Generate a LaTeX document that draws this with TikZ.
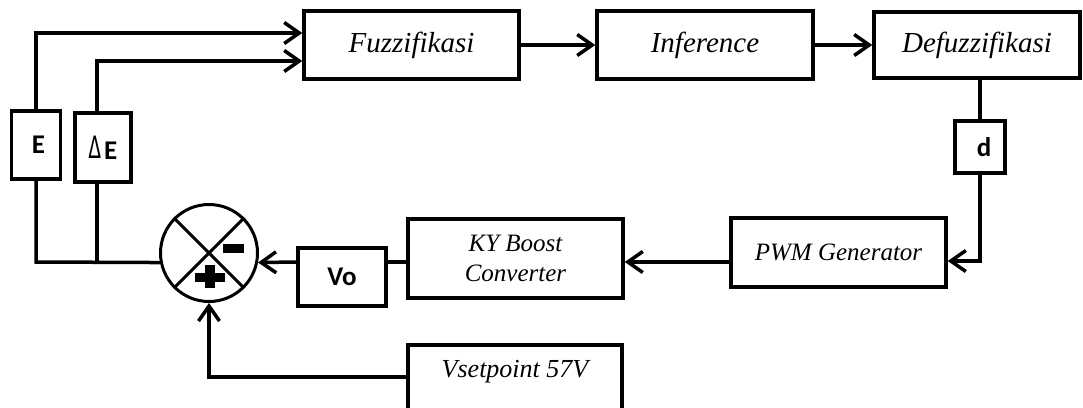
\documentclass[tikz,border=0pt]{standalone}
\usepackage{fontspec}
\usepackage{graphicx}
\setmainfont{Liberation Serif}
\newfontfamily\lblfont{Carlito}
\usetikzlibrary{arrows.meta,calc}
\tikzset{
  wire/.style={line width=3.5pt},
  arr/.style={wire, -{Straight Barb[length=15pt,width=21pt,line width=3.5pt]}},
  blockbox/.style={draw, line width=3.5pt, inner sep=0pt,
    font=\itshape\fontsize{29}{34}\selectfont},
  tagbox/.style={draw, line width=3.5pt, inner sep=0pt,
    font=\lblfont\bfseries\fontsize{27}{30}\selectfont},
  junction/.style={draw, circle, line width=3pt, minimum size=97pt, inner sep=0pt},
}
\begin{document}
\begin{tikzpicture}[x=1pt,y=-1pt]
  \clip (0,0) rectangle (1083,407);
  \fill[white] (0,0) rectangle (1083,407);

  % fuzzy controller chain
  \node[blockbox, minimum width=215pt, minimum height=68pt] (fuz) at (411.5,45) {Fuzzifikasi};
  \node[blockbox, minimum width=216pt, minimum height=68pt] (inf) at (705,45) {Inference};
  \node[blockbox, minimum width=206pt, minimum height=66pt] (def) at (977,45) {Defuzzifikasi};
  \node[tagbox, minimum width=50pt, minimum height=52pt] (d) at (980,147) {\hspace{8pt}d};

  % plant
  \node[blockbox, minimum width=215pt, minimum height=69pt,
        font=\itshape\fontsize{25}{30}\selectfont] (pwm) at (838.5,252.5) {PWM Generator};
  \node[blockbox, minimum width=215pt, minimum height=79pt, align=center,
        font=\itshape\fontsize{25}{30}\selectfont] (ky) at (515.5,258.5) {KY Boost\\Converter};
  \node[tagbox, minimum width=88pt, minimum height=58pt] (vo) at (342,277) {\raisebox{-3pt}{Vo}};

  % reference
  \node[blockbox, minimum width=214pt, minimum height=100pt, anchor=north] (vset) at (515,343) {};
  \node[anchor=base, inner sep=0pt, font=\itshape\fontsize{26}{30}\selectfont] (vsettxt) at (515,377) {Vsetpoint 57V};

  % error signals
  \node[tagbox, minimum width=49pt, minimum height=68pt] (E) at (36,145) {\hspace{5pt}E};
  \node[tagbox, minimum width=56pt, minimum height=69pt] (dE) at (103,147.5)
    {\raisebox{1pt}{\mdseries\fontsize{28}{30}\selectfont\scalebox{0.8}[1.25]{Δ}}\hspace{3pt}E\hspace{16pt}};

  % summing junction
  \node[junction] (sum) at (209,253) {};
  \draw[line width=3pt] (sum.45) -- (sum.225);
  \draw[line width=3pt] (sum.135) -- (sum.315);
  \fill (223,244) rectangle (244,253);
  \fill (195,273) rectangle (225,282);
  \fill (205,265) rectangle (215,288);

  % routing points
  \coordinate (eb) at (36,262);
  \coordinate (db) at (97,262);
  \coordinate (et) at (36,33);
  \coordinate (dt) at (97,61);
  \coordinate (lane) at (0,262);
  \coordinate (dc) at (979,261);
  \coordinate (vl) at (0,377);

  % connectors
  \draw[wire] (sum.191) -- (eb) -- (E.south);
  \draw[wire] (db) -- (db |- dE.south);
  \draw[arr] (E.north) -- (et) -- (fuz.west |- et);
  \draw[arr] (db |- dE.north) -- (dt) -- (fuz.west |- dt);
  \draw[arr] (fuz.east) -- (inf.west);
  \draw[arr] (inf.east) -- (def.west);
  \draw[wire] (d.north |- def.south) -- (d.north);
  \draw[arr] (d.south) -- (d.south |- dc) -- (pwm.east |- dc);
  \draw[arr] (pwm.west |- lane) -- (ky.east |- lane);
  \draw[wire] (ky.west |- lane) -- (vo.east |- lane);
  \draw[arr] (vo.west |- lane) -- (sum.349);
  \draw[arr] (vset.west |- vl) -- (sum.south |- vl) -- (sum.south);
\end{tikzpicture}
\end{document}
